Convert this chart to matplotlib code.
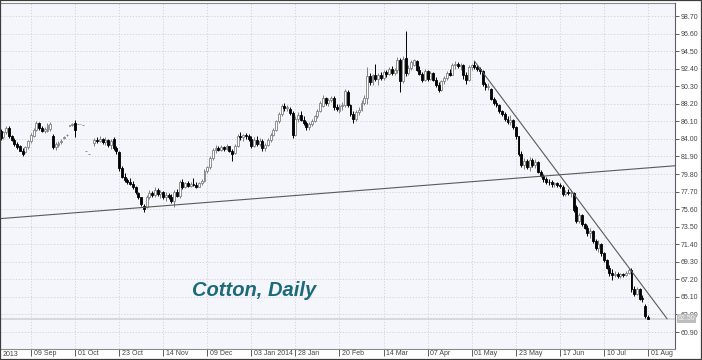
import numpy as np
import matplotlib
matplotlib.use('Agg')
import matplotlib.pyplot as plt
import matplotlib.transforms as mtransforms
import matplotlib.patches as patches

matplotlib.rc('font', **{'family': 'sans-serif',
                         'sans-serif': ['Liberation Sans', 'DejaVu Sans'], 'size': 5})

nan = np.nan

# daily OHLC, one entry per trading day (index 0 = late Aug 2013)
opens = [
    84.9, 84.2, 84.8, 85.3, 84.3, 83.9, 83.4, 83.1, 82.6, 82.4,
    83.0, 83.7, 84.4, 85.1, 85.9, 85.3, 85.0, 84.9, 85.2, 84.4,
    83.0, 83.3, 83.6, 84.1, 84.5, 85.6, 85.7, 85.86, 85.75, 85.75,
    85.7, 82.55, 82.15, nan, 83.5, 83.9, 83.7, 84.0, 83.6, 83.9,
    83.3, 84.0, 82.9, 82.4, 80.5, 79.5, 79.1, 78.9, 78.6, 78.2,
    77.5, 77.0, 76.0, 75.8, 77.0, 77.5, 77.3, 77.9, 77.4, 77.6,
    77.0, 77.3, 77.0, 76.6, 77.7, 77.2, 78.8, 78.3, 78.7, 78.4,
    78.6, 78.5, 78.3, 78.7, 79.0, 80.2, 80.6, 81.7, 82.7, 82.9,
    82.7, 83.0, 82.8, 83.1, 82.6, 82.3, 83.2, 84.4, 84.2, 84.5,
    84.3, 84.0, 83.2, 83.9, 83.4, 83.8, 82.9, 83.3, 83.9, 84.5,
    85.1, 86.1, 87.0, 87.9, 87.7, 87.6, 87.1, 84.5, 86.4, 86.9,
    86.3, 85.9, 85.4, 85.8, 86.2, 86.7, 87.4, 87.9, 88.9, 88.3,
    88.6, 88.9, 87.8, 87.3, 87.9, 88.0, 89.6, 88.0, 87.0, 86.4,
    87.2, 87.5, 88.3, 88.9, 91.5, 90.8, 91.6, 91.2, 91.7, 91.3,
    92.0, 91.8, 92.4, 91.9, 92.2, 93.5, 90.9, 93.7, 91.9, 92.5,
    92.9, 93.3, 92.3, 91.8, 91.1, 92.1, 91.2, 91.9, 91.1, 90.5,
    89.9, 90.9, 91.3, 91.9, 91.7, 92.8, 93.0, 92.7, 92.9, 91.6,
    91.0, 92.6, 92.8, 92.6, 92.4, 92.1, 90.6, 90.2, 90.0, 88.8,
    88.3, 88.0, 87.3, 87.0, 86.4, 86.0, 86.3, 85.4, 84.3, 82.2,
    80.9, 81.3, 80.7, 81.5, 80.9, 81.2, 80.1, 79.6, 79.2, 78.9,
    78.8, 78.6, 78.7, 78.5, 78.3, 77.4, 77.7, 77.5, 77.5, 75.8,
    74.2, 74.9, 73.8, 73.4, 72.7, 73.0, 71.8, 71.0, 71.4, 70.3,
    69.5, 68.6, 68.0, 67.7, 67.9, 67.6, 67.8, 67.7, 68.0, 68.3,
    66.0, 65.5, 66.1, 65.0, 64.0, 62.7]

highs = [
    85.2, 85.0, 85.5, 85.5, 84.5, 84.1, 83.6, 83.3, 82.9, 83.2,
    83.9, 84.7, 85.3, 86.2, 86.0, 85.5, 85.4, 85.9, 86.0, 84.6,
    83.6, 83.7, 84.0, 84.3, 84.6, 85.7, 85.9, 86.3, 85.75, 85.75,
    85.7, 82.55, 82.15, nan, 84.1, 84.2, 84.3, 84.1, 84.2, 84.0,
    84.0, 84.2, 83.2, 82.5, 80.8, 79.9, 79.3, 79.3, 79.0, 78.4,
    77.7, 77.1, 76.2, 77.3, 77.9, 77.8, 78.2, 78.1, 77.9, 77.8,
    77.6, 77.5, 77.4, 77.9, 78.0, 79.1, 79.2, 78.9, 79.0, 78.9,
    79.3, 78.8, 78.9, 79.2, 80.4, 80.8, 81.9, 82.9, 83.3, 83.2,
    83.3, 83.2, 83.4, 83.2, 82.8, 83.4, 84.6, 84.8, 84.6, 84.7,
    84.6, 84.4, 84.2, 84.3, 84.1, 84.0, 83.5, 84.1, 84.7, 85.3,
    86.3, 87.2, 88.2, 88.3, 88.1, 87.8, 87.3, 86.8, 87.2, 87.3,
    86.7, 86.2, 86.0, 86.4, 86.9, 87.6, 88.5, 89.2, 89.0, 88.9,
    89.1, 89.1, 88.2, 88.2, 88.4, 90.0, 89.8, 88.2, 87.4, 87.5,
    87.8, 88.6, 89.2, 92.6, 91.9, 91.8, 93.0, 91.9, 92.0, 92.2,
    92.3, 92.6, 92.7, 92.5, 93.8, 93.7, 93.9, 96.9, 92.8, 93.5,
    93.6, 93.5, 92.7, 92.0, 92.4, 92.3, 92.1, 92.0, 91.4, 90.8,
    91.1, 91.5, 92.1, 92.4, 93.1, 93.3, 93.2, 93.1, 93.0, 92.0,
    92.8, 93.0, 93.3, 92.8, 92.6, 92.3, 90.8, 90.7, 90.1, 89.0,
    88.6, 88.2, 87.5, 87.2, 86.8, 86.9, 86.4, 85.5, 84.4, 82.5,
    81.7, 81.6, 81.8, 81.7, 81.6, 81.3, 80.3, 79.8, 79.5, 79.2,
    79.1, 78.9, 78.9, 78.7, 78.5, 77.9, 78.0, 77.9, 77.7, 76.1,
    75.1, 75.0, 74.0, 73.7, 73.3, 73.1, 72.0, 71.9, 71.5, 70.5,
    69.6, 68.9, 68.4, 68.2, 68.1, 68.0, 68.0, 68.2, 68.5, 68.5,
    66.4, 66.3, 66.2, 65.3, 64.2, 62.9]

lows = [
    83.9, 84.0, 84.6, 84.1, 83.7, 83.2, 82.8, 82.5, 82.0, 82.3,
    82.8, 83.5, 84.2, 84.9, 85.1, 84.8, 84.7, 84.8, 85.0, 82.8,
    82.7, 83.0, 83.4, 84.0, 84.4, 85.6, 85.6, 84.25, 85.75, 85.75,
    85.7, 82.55, 82.15, nan, 83.2, 83.5, 83.6, 83.4, 83.3, 83.0,
    82.8, 82.7, 82.2, 80.2, 79.3, 78.8, 78.6, 78.5, 78.0, 77.4,
    76.8, 76.0, 75.2, 75.7, 76.8, 77.1, 77.0, 77.2, 76.9, 76.8,
    76.6, 76.8, 76.3, 75.9, 77.0, 76.9, 78.0, 78.1, 78.2, 78.2,
    78.4, 78.1, 78.2, 78.5, 78.9, 79.9, 80.4, 81.5, 82.3, 82.5,
    82.6, 82.6, 82.7, 82.4, 81.3, 82.2, 83.0, 83.9, 83.7, 84.0,
    83.8, 82.9, 83.0, 83.1, 83.2, 82.6, 82.5, 83.1, 83.6, 84.3,
    84.9, 85.9, 86.8, 87.4, 87.3, 86.9, 84.1, 84.3, 86.0, 86.1,
    85.7, 85.1, 85.1, 85.6, 86.0, 86.5, 87.2, 87.8, 88.0, 87.9,
    88.4, 87.5, 87.4, 87.1, 87.5, 87.8, 87.8, 86.8, 85.9, 86.2,
    86.9, 87.3, 88.0, 88.2, 90.5, 90.5, 90.9, 90.4, 91.1, 91.1,
    91.4, 91.6, 91.7, 91.6, 91.9, 89.6, 90.7, 91.5, 91.6, 92.3,
    92.7, 92.1, 91.6, 90.8, 90.9, 90.9, 91.0, 90.9, 90.2, 89.6,
    89.7, 90.6, 91.1, 91.5, 91.6, 92.4, 92.5, 92.2, 91.2, 90.6,
    90.9, 92.3, 92.4, 92.1, 91.8, 90.3, 89.9, 89.8, 88.6, 88.1,
    87.8, 87.1, 86.8, 86.2, 85.8, 85.7, 85.2, 84.0, 81.9, 80.6,
    80.4, 80.4, 80.2, 80.6, 80.5, 79.9, 79.4, 78.9, 78.6, 78.5,
    78.3, 78.2, 78.3, 78.1, 77.2, 77.2, 77.3, 77.1, 75.2, 73.9,
    74.0, 73.6, 73.2, 72.4, 72.1, 71.6, 70.7, 70.5, 70.0, 69.3,
    68.4, 67.6, 67.1, 67.5, 67.4, 67.4, 67.5, 67.6, 67.8, 65.7,
    65.2, 65.3, 64.7, 64.5, 62.6, 62.5]

closes = [
    84.1, 84.8, 85.3, 84.3, 83.9, 83.4, 83.0, 82.6, 82.2, 83.0,
    83.7, 84.5, 85.1, 85.9, 85.3, 85.0, 85.2, 85.7, 85.8, 83.0,
    83.4, 83.5, 83.8, 84.2, 84.5, 85.65, 85.8, 85.06, 85.75, 85.75,
    85.7, 82.55, 82.15, nan, 83.9, 83.7, 84.0, 83.6, 83.9, 83.3,
    83.8, 82.9, 82.5, 80.5, 79.5, 79.1, 78.9, 78.6, 78.2, 77.6,
    77.0, 76.2, 75.6, 77.0, 77.5, 77.3, 77.9, 77.4, 77.6, 77.0,
    77.3, 77.1, 76.6, 77.7, 77.2, 78.8, 78.3, 78.7, 78.4, 78.6,
    78.5, 78.3, 78.7, 79.0, 80.2, 80.6, 81.7, 82.7, 82.9, 82.7,
    83.0, 82.8, 83.1, 82.6, 82.2, 83.2, 84.4, 84.2, 84.5, 84.3,
    84.0, 83.2, 83.9, 83.4, 83.8, 82.9, 83.3, 83.9, 84.5, 85.1,
    86.1, 87.0, 87.9, 87.7, 87.8, 87.1, 84.5, 86.4, 86.9, 86.3,
    85.9, 85.4, 85.8, 86.2, 86.7, 87.4, 88.3, 88.9, 88.3, 88.6,
    88.9, 87.8, 87.6, 87.9, 88.1, 89.7, 88.0, 87.0, 86.4, 87.2,
    87.5, 88.3, 88.9, 91.5, 90.8, 91.6, 91.2, 91.7, 91.3, 92.0,
    91.8, 92.4, 91.9, 92.2, 93.5, 90.9, 93.6, 91.9, 92.5, 93.2,
    93.4, 92.3, 91.8, 91.1, 92.1, 91.2, 91.9, 91.1, 90.5, 89.9,
    90.9, 91.3, 91.9, 91.7, 92.8, 93.0, 92.7, 92.9, 91.6, 91.0,
    92.6, 92.8, 92.6, 92.4, 92.1, 90.6, 90.2, 90.3, 88.8, 88.3,
    88.0, 87.3, 87.0, 86.4, 86.0, 86.3, 85.4, 84.3, 82.2, 80.9,
    81.3, 80.7, 81.5, 80.9, 81.2, 80.1, 79.6, 79.2, 78.9, 78.8,
    78.6, 78.7, 78.5, 78.4, 77.4, 77.7, 77.5, 77.6, 75.5, 74.2,
    74.9, 73.8, 73.4, 72.7, 73.0, 71.8, 71.0, 71.4, 70.3, 69.5,
    68.6, 68.0, 67.7, 67.9, 67.6, 67.8, 67.7, 68.0, 68.3, 66.0,
    65.5, 66.1, 64.9, 64.8, 62.8, 62.5]

# date labels (bar index of each label)
tick_idx = [11, 27, 43, 59, 75, 91, 107, 123, 139, 155, 171, 187, 203, 219, 235]
tick_lbl = ['09 Sep', '01 Oct', '23 Oct', '14 Nov', '09 Dec', '03 Jan 2014',
            '28 Jan', '20 Feb', '14 Mar', '07 Apr', '01 May', '23 May',
            '17 Jun', '10 Jul', '01 Aug']
price_ticks = [60.90, 63.00, 65.10, 67.20, 69.30, 71.40, 73.50, 75.60, 77.70,
               79.80, 81.90, 84.00, 86.10, 88.20, 90.30, 92.40, 94.50, 96.60, 98.70]
last_price = 62.50

# trend lines drawn on the chart: (bar index, price) end points
support_line = ([0, 244.8], [74.47, 80.79])
resist_line = ([172, 241.9], [93.3, 62.5])

o = np.array(opens)
h = np.array(highs)
l = np.array(lows)
c = np.array(closes)
idx = np.arange(len(c))
ok = ~np.isnan(c)
up = ok & (c >= o)
dn = ok & (c < o)

fig = plt.figure(figsize=(7.02, 3.6), dpi=100)
ax = fig.add_axes([1/702., 11/360., 674/702., 346/360.])
ax.set_facecolor('#f5f6fb')

ax.set_xlim(0.13, 244.8)
ax.set_ylim(58.87, 100.26)

# grid
for t in tick_idx:
    ax.axvline(t, color='#cfcfd4', lw=0.6, ls=(0, (1.5, 2)), zorder=0)
for p in price_ticks:
    ax.axhline(p, color='#cfcfd4', lw=0.6, ls=(0, (1.5, 2)), zorder=0)

# last price line
ax.axhline(last_price, color='#d2d2d6', lw=1.2, zorder=1)

# candles
w = 0.7
ax.vlines(idx[up], l[up], h[up], color='#808080', lw=0.7, zorder=2)
ax.vlines(idx[dn], l[dn], h[dn], color='black', lw=0.7, zorder=2)
ax.bar(idx[up], c[up] - o[up], bottom=o[up], width=w, color='white',
       edgecolor='#808080', lw=0.6, zorder=3)
ax.bar(idx[dn], c[dn] - o[dn], bottom=o[dn], width=w, color='black',
       edgecolor='black', lw=0.6, zorder=3)

# trend lines
ax.plot(*support_line, color='#5a5a5a', lw=0.8, zorder=4)
ax.plot(*resist_line, color='#5a5a5a', lw=0.8, zorder=4)

# axes look
for s in ['left', 'top']:
    ax.spines[s].set_visible(False)
ax.spines['right'].set_color('#606060')
ax.spines['bottom'].set_color('#8a8a8a')
ax.spines['right'].set_linewidth(0.8)
ax.spines['bottom'].set_linewidth(0.8)
ax.plot([0, 1], [1, 1], transform=ax.transAxes, color='#8a8a8a', lw=0.8,
        clip_on=False)

ax.yaxis.tick_right()
ax.set_yticks(price_ticks)
ax.set_yticklabels(['%.2f' % p for p in price_ticks])
ax.tick_params(axis='y', direction='out', length=3, width=0.6, pad=1,
               colors='#444444', labelsize=5)

ax.set_xticks(tick_idx)
ax.set_xticklabels(tick_lbl, ha='left')
ax.tick_params(axis='x', direction='out', length=5, width=0.6, pad=-4.5,
               colors='#444444', labelsize=5)
offset = mtransforms.ScaledTranslation(2/72., 0, fig.dpi_scale_trans)
for lab in ax.get_xticklabels():
    lab.set_transform(lab.get_transform() + offset)

ax.text(0.003, -0.007, '2013', transform=ax.transAxes, ha='left', va='top',
        fontsize=5, color='#444444')

# last price marker on the scale
ax.text(1.004, last_price, '%.2f' % last_price,
        transform=mtransforms.blended_transform_factory(ax.transAxes, ax.transData),
        ha='left', va='center', fontsize=5, color='#f2f2f2', zorder=10,
        bbox=dict(fc='#bdbdbd', ec='none', pad=0.8))

fig.text(192/702., 1 - 291/360., 'Cotton, Daily', ha='left', va='center',
         fontsize=14.5, fontweight='bold', fontstyle='italic', color='#1d6a78')

fig.add_artist(patches.Rectangle((0, 0), 1, 1, transform=fig.transFigure,
                                 fill=False, ec='#3c3c3c', lw=1.6))

fig.savefig('out.png', dpi=100)
plt.close()
